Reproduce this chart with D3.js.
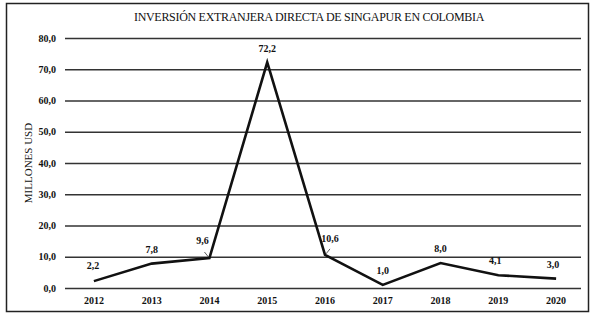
<!DOCTYPE html>
<html>
<head>
<meta charset="utf-8">
<script src="https://cdn.jsdelivr.net/npm/d3@7"></script>
<style>
  body { margin: 0; background: #fff; }
  svg { display: block; }
</style>
</head>
<body>
<div id="chart"></div>
<script>
// datos
const years = ['2012', '2013', '2014', '2015', '2016', '2017', '2018', '2019', '2020'];
const values = [2.2, 7.8, 9.6, 72.2, 10.6, 1.0, 8.0, 4.1, 3.0];
const yTicks = [0, 10, 20, 30, 40, 50, 60, 70, 80];
const chartTitle = 'INVERSIÓN EXTRANJERA DIRECTA DE SINGAPUR EN COLOMBIA';
const yTitle = 'MILLONES USD';

const serif = '"Liberation Serif", "Times New Roman", serif';

function fmt(v) {
    return d3.format('.1f')(v).replace('.', ',');
}

function createLineChart() {
    const width = 593;
    const height = 314;
    const margin = { top: 38, right: 8, bottom: 26, left: 65 };

    const svg = d3.select('#chart')
        .append('svg')
        .attr('width', width)
        .attr('height', height)
        .attr('font-family', serif);

    // marco exterior
    svg.append('rect')
        .attr('x', 6.5)
        .attr('y', 3.5)
        .attr('width', 582)
        .attr('height', 308)
        .attr('fill', 'none')
        .attr('stroke', '#222')
        .attr('stroke-width', 1.5);

    const x = d3.scaleBand()
        .domain(years)
        .range([margin.left, width - margin.right])
        .padding(0);

    const y = d3.scaleLinear()
        .domain([0, 80])
        .range([height - margin.bottom, margin.top]);

    const cx = d => x(d) + x.bandwidth() / 2;

    // lineas de cuadricula + eje Y
    const yAxis = svg.append('g')
        .attr('transform', `translate(${margin.left},0)`)
        .call(d3.axisLeft(y)
            .tickValues(yTicks)
            .tickSize(-(width - margin.right - margin.left - 4))
            .tickPadding(9)
            .tickFormat(fmt))
        .attr('font-family', serif)
        .attr('font-size', 10);
    yAxis.select('.domain').remove();
    yAxis.selectAll('line')
        .attr('stroke', '#333')
        .attr('stroke-width', 1.3);
    yAxis.selectAll('text')
        .attr('font-weight', 'bold')
        .attr('fill', '#111');

    // eje X
    const xAxis = svg.append('g')
        .attr('transform', `translate(0,${height - margin.bottom})`)
        .call(d3.axisBottom(x).tickSize(0).tickPadding(9))
        .attr('font-family', serif)
        .attr('font-size', 10);
    xAxis.select('.domain').remove();
    xAxis.selectAll('text')
        .attr('font-weight', 'bold')
        .attr('fill', '#111');

    // linea
    const line = d3.line()
        .x((d, i) => cx(years[i]))
        .y(d => y(d));

    svg.append('path')
        .datum(values)
        .attr('fill', 'none')
        .attr('stroke', '#111')
        .attr('stroke-width', 2.6)
        .attr('stroke-linejoin', 'miter')
        .attr('d', line);

    // desplazamiento de etiquetas (dx, dy)
    const nudge = {
        '2012': [-1, -12], '2013': [0, -11], '2014': [-7, -14],
        '2015': [0, -10], '2016': [5, -13], '2017': [0, -11],
        '2018': [0, -11], '2019': [-3, -11], '2020': [-3, -11]
    };

    // lineas guia para 2014 y 2016
    ['2014', '2016'].forEach(yr => {
        const i = years.indexOf(yr);
        const px = cx(yr), py = y(values[i]);
        const dir = yr === '2014' ? -1 : 1;
        svg.append('line')
            .attr('x1', px + dir * 1)
            .attr('y1', py - 1)
            .attr('x2', px + dir * 5)
            .attr('y2', py - 6)
            .attr('stroke', '#333')
            .attr('stroke-width', 0.8);
    });

    svg.selectAll('.val-label')
        .data(values)
        .enter()
        .append('text')
        .attr('class', 'val-label')
        .attr('x', (d, i) => cx(years[i]) + nudge[years[i]][0])
        .attr('y', (d, i) => y(d) + nudge[years[i]][1])
        .attr('text-anchor', 'middle')
        .attr('fill', '#111')
        .attr('font-size', 10)
        .attr('font-weight', 'bold')
        .text(d => fmt(d));

    // titulo
    svg.append('text')
        .attr('x', 309)
        .attr('y', 21)
        .attr('text-anchor', 'middle')
        .attr('fill', '#111')
        .attr('font-size', 12)
        .attr('letter-spacing', '-0.3')
        .text(chartTitle);

    // titulo eje Y
    svg.append('text')
        .attr('transform', `translate(32,${(y(0) + y(80)) / 2}) rotate(-90)`)
        .attr('text-anchor', 'middle')
        .attr('fill', '#111')
        .attr('font-size', 11)
        .text(yTitle);
}

createLineChart();
</script>
</body>
</html>
